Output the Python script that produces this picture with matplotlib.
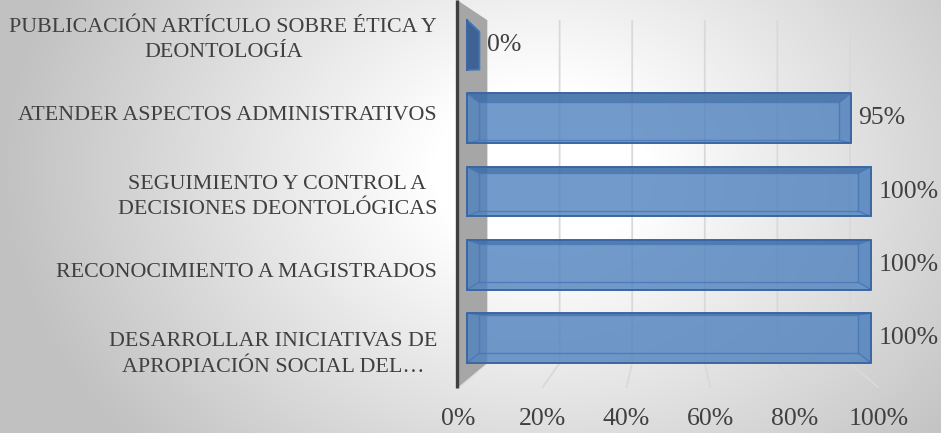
import numpy as np
import matplotlib
matplotlib.use("Agg")
import matplotlib.pyplot as plt
from matplotlib.patches import Polygon

# ---------------- data ----------------
categories = [
    "DESARROLLAR INICIATIVAS DE\nAPROPIACIÓN SOCIAL DEL…",
    "RECONOCIMIENTO A MAGISTRADOS",
    "SEGUIMIENTO Y CONTROL A\nDECISIONES DEONTOLÓGICAS",
    "ATENDER ASPECTOS ADMINISTRATIVOS",
    "PUBLICACIÓN ARTÍCULO SOBRE ÉTICA Y\nDEONTOLOGÍA",
]
values = [1.00, 1.00, 1.00, 0.95, 0.00]
value_labels = ["100%", "100%", "100%", "95%", "0%"]
x_ticks = [0.0, 0.2, 0.4, 0.6, 0.8, 1.0]
x_tick_labels = ["0%", "20%", "40%", "60%", "80%", "100%"]

# ---------------- style / projection constants ----------------
W, H, DPI = 941, 433, 100
TEXT = "#404040"
FONT = "Liberation Serif"
BAR_X0_PX, BAR_SCALE_PX = 467.0, 404.0
ROW0_PX, ROW_STEP_PX = 338.0, 73.25
AX_L_PX, AX_R_PX, AX_T_PX, AX_B_PX = 457.0, 905.0, 0.0, 388.0

def px_to_x(px):
    return (px - BAR_X0_PX) / BAR_SCALE_PX

def py_to_y(py):
    return (ROW0_PX - py) / ROW_STEP_PX

XMIN, XMAX = px_to_x(AX_L_PX), px_to_x(AX_R_PX)
YMIN, YMAX = py_to_y(AX_B_PX), py_to_y(AX_T_PX)

WALL_X0, WALL_SCALE = px_to_x(487.0), 363.0 / BAR_SCALE_PX
FLOOR_X0, FLOOR_SCALE = px_to_x(458.0), 421.0 / BAR_SCALE_PX
WALL_TOP_Y = py_to_y(20.0)
FLOOR_BACK_Y = py_to_y(363.0)
DEPTH = 0.6          # bar depth as fraction of floor depth
BAR_H = 0.68
TOP_IN, BOT_IN = 0.06, 0.10
VY, SHIFT = 1.065, 0.032
LABEL_MID, LABEL_STEP = 2.0, 1.075

def back_x(v):
    return WALL_X0 + WALL_SCALE * v

def depth_x(v, d):
    return v + d * (back_x(v) - v)

def floor_x(v):
    return FLOOR_X0 + FLOOR_SCALE * v

# ---------------- figure ----------------
fig = plt.figure(figsize=(W / DPI, H / DPI), dpi=DPI)

# radial gradient background
bg = fig.add_axes([0, 0, 1, 1], zorder=-10)
gx, gy = np.meshgrid(np.arange(W), np.arange(H))
r = np.sqrt(((gx - 540) / 540.0) ** 2 + ((gy - 170) / 420.0) ** 2)
t = np.clip((r - 0.2) / 0.8, 0, 1)
shade = (255 - 62 * t) / 255.0
bg.imshow(np.dstack([shade] * 3), extent=[0, W, H, 0], aspect="auto")
bg.set_axis_off()

ax = fig.add_axes([AX_L_PX / W, 1 - AX_B_PX / H,
                   (AX_R_PX - AX_L_PX) / W, (AX_B_PX - AX_T_PX) / H])
ax.patch.set_alpha(0)
ax.set_xlim(XMIN, XMAX)
ax.set_ylim(YMIN, YMAX)
for s in ax.spines.values():
    s.set_visible(False)

# gridlines on back wall and floor
for tv in x_ticks:
    ax.plot([back_x(tv), back_x(tv), floor_x(tv)],
            [WALL_TOP_Y, FLOOR_BACK_Y, YMIN],
            color="#d9d9d9", lw=1.3, zorder=1, solid_capstyle="butt")

# left wall
ax.add_patch(Polygon([(XMIN, YMAX), (WALL_X0, WALL_TOP_Y),
                      (WALL_X0, FLOOR_BACK_Y), (XMIN, YMIN)],
                     closed=True, facecolor="#a6a6a6", edgecolor="none",
                     zorder=2))
ax.plot([XMIN, XMIN], [YMIN, YMAX], color="#3f3f3f", lw=2.4, zorder=3,
        solid_capstyle="butt", clip_on=False)

# bars (simple 3D boxes)
EDGE = "#3a67a3"
for i, v in enumerate(values):
    y0, y1 = i - BAR_H / 2, i + BAR_H / 2
    s = SHIFT * (VY - i)
    by0, by1 = y0 + BOT_IN + s, y1 - TOP_IN + s
    bx0, bx1 = depth_x(0.0, DEPTH), depth_x(v, DEPTH)
    # right end face: opaque when facing the viewer
    facing = bx1 > v
    ax.add_patch(Polygon([(v, y0), (v, y1), (bx1, by1), (bx1, by0)],
                         closed=True,
                         facecolor="#3a5f94" if facing else "#4f81bd",
                         alpha=0.95 if facing else 0.25,
                         edgecolor=EDGE, lw=1.0, zorder=4))
    # front face
    ax.add_patch(Polygon([(0, y0), (v, y0), (v, y1), (0, y1)], closed=True,
                         facecolor="#4f81bd", alpha=0.8, edgecolor="none",
                         zorder=5))
    # top face
    ax.add_patch(Polygon([(0, y1), (v, y1), (bx1, by1), (bx0, by1)],
                         closed=True, facecolor="#2f5a94", alpha=0.45,
                         edgecolor="none", zorder=6))
    # inner (back) edges
    ax.plot([bx0, bx1, bx1, bx0, bx0], [by0, by0, by1, by1, by0],
            color="#4677b8", lw=1.0, alpha=0.8, zorder=7)
    for (fx, fy, kx, ky) in [(0, y0, bx0, by0), (v, y0, bx1, by0),
                             (0, y1, bx0, by1), (v, y1, bx1, by1)]:
        ax.plot([fx, kx], [fy, ky], color="#4677b8", lw=1.0, alpha=0.8,
                zorder=7)
    # front outline
    ax.plot([0, v, v, 0, 0], [y0, y0, y1, y1, y0], color=EDGE, lw=1.4,
            zorder=8)
    # data label
    ax.annotate(value_labels[i], xy=(max(v, bx1), i), xytext=(5.5, 0),
                textcoords="offset points", ha="left", va="center",
                fontsize=18.5, color=TEXT, family=FONT, zorder=9,
                annotation_clip=False)

# axis ticks / labels
ax.set_xticks([floor_x(tv) for tv in x_ticks])
ax.set_xticklabels(x_tick_labels, fontsize=18.5, color=TEXT, family=FONT)
ax.set_yticks([LABEL_MID + (k - LABEL_MID) * LABEL_STEP
               for k in range(len(categories))])
ax.set_yticklabels(categories, fontsize=15.8, color=TEXT, family=FONT,
                   linespacing=1.45)
for lbl in ax.get_yticklabels():
    lbl.set_multialignment("center")
ax.tick_params(axis="both", length=0)
ax.tick_params(axis="y", pad=14.4)
ax.tick_params(axis="x", pad=14.5)

fig.savefig("out.png", dpi=DPI)
